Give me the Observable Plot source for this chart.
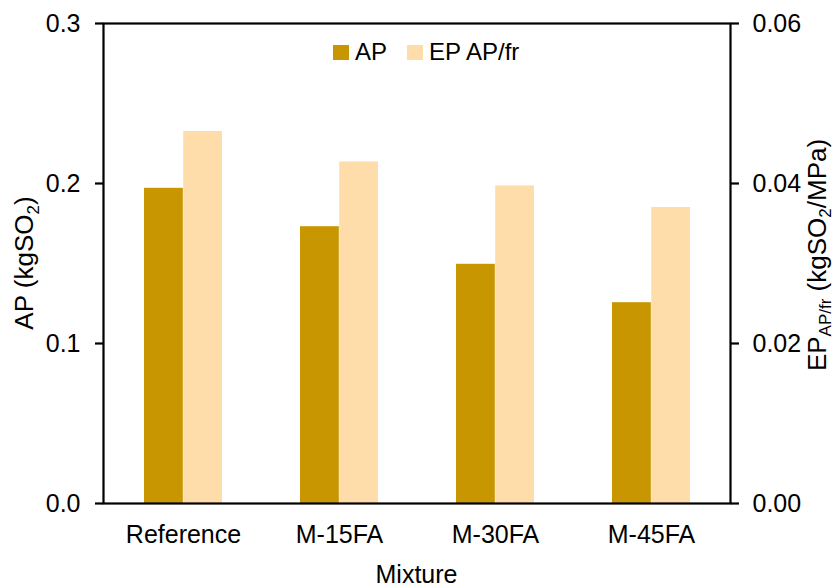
<!DOCTYPE html>
<html>
<head>
<meta charset="utf-8">
<script src="https://cdn.jsdelivr.net/npm/d3@7"></script>
<script src="https://cdn.jsdelivr.net/npm/@observablehq/plot@0.6"></script>
<style>
  body { margin: 0; background: #fff; }
  #wrap { position: relative; width: 837px; height: 588px; font-family: "Liberation Sans", Arial, sans-serif; }
  #legend { position: absolute; left: 333px; top: 38px; display: flex; align-items: center; font-size: 24px; color: #000; }
  #legend .sw { width: 16px; height: 15px; display: inline-block; margin-right: 6px; }
  #legend .item { display: flex; align-items: center; margin-right: 20px; }
</style>
</head>
<body>
<div id="wrap"></div>
<script>
// Data
const categories = ["Reference", "M-15FA", "M-30FA", "M-45FA"];
const apValues = [0.197, 0.173, 0.1495, 0.1255];
const epValues = [0.0465, 0.0427, 0.0397, 0.0370];
const leftTicks = [0, 0.1, 0.2, 0.3];
const rightTicks = [0, 0.02, 0.04, 0.06];
const seriesNames = ["AP", "EP AP/fr"];
const colors = ["#C89600", "#FFDDAA"];

const W = 837, H = 588;
const mL = 103, mR = 107, mT = 23, mB = 85;
const ratio = 0.3 / 0.06; // left scale / right scale

const table = categories.map((c, i) => ({ cat: c, ap: apValues[i], ep: epValues[i] * ratio }));

const step = (W - mL - mR) / (categories.length - 0.5 + 0.5);
const bw = step * 0.5;

const plot = Plot.plot({
  width: W, height: H,
  marginLeft: mL, marginRight: mR, marginTop: mT, marginBottom: mB,
  style: { fontFamily: "Liberation Sans, Arial, sans-serif", fontSize: "25px", color: "#000", background: "#fff" },
  x: { domain: categories, paddingInner: 0.5, paddingOuter: 0.25, label: null },
  y: { domain: [0, 0.3], label: null },
  marks: [
    Plot.barY(table, { x: "cat", y: "ap", fill: colors[0], insetRight: bw / 2 }),
    Plot.barY(table, { x: "cat", y: "ep", fill: colors[1], insetLeft: bw / 2 }),
    Plot.frame({ stroke: "#000", strokeWidth: 2.2 }),
    Plot.axisY(leftTicks, { anchor: "left", tickSize: 8, tickPadding: 15, strokeWidth: 2.2, tickFormat: d => d.toFixed(1), fontSize: 25, label: null }),
    Plot.axisY(rightTicks.map(v => v * ratio), { anchor: "right", tickSize: 8, tickPadding: 14, strokeWidth: 2.2, tickFormat: d => (d / ratio).toFixed(2), fontSize: 25, label: null }),
    Plot.axisX({ anchor: "bottom", tickSize: 0, tickPadding: 22, fontSize: 25, label: null })
  ]
});

const wrap = document.getElementById("wrap");
wrap.appendChild(plot);

const svg = d3.select(plot);
const ff = "Liberation Sans, Arial, sans-serif";

// x title
svg.append("text")
  .attr("x", (mL + W - mR) / 2).attr("y", 583)
  .attr("text-anchor", "middle").attr("font-size", 25).attr("font-family", ff).attr("fill", "#000")
  .text("Mixture");

// left title
const lt = svg.append("text")
  .attr("transform", `translate(33,${(mT + H - mB) / 2}) rotate(-90)`)
  .attr("text-anchor", "middle").attr("font-size", 26).attr("font-family", ff).attr("fill", "#000");
lt.append("tspan").text("AP (kgSO");
lt.append("tspan").attr("font-size", 17).attr("dy", 6).text("2");
lt.append("tspan").attr("dy", -6).text(")");

// right title
const rt = svg.append("text")
  .attr("transform", `translate(826,${(mT + H - mB) / 2 - 8}) rotate(-90)`)
  .attr("text-anchor", "middle").attr("font-size", 26).attr("font-family", ff).attr("fill", "#000");
rt.append("tspan").text("EP");
rt.append("tspan").attr("font-size", 17).attr("dy", 5).text("AP/fr");
rt.append("tspan").attr("dy", -5).text(" (kgSO");
rt.append("tspan").attr("font-size", 17).attr("dy", 5).text("2");
rt.append("tspan").attr("dy", -5).text("/MPa)");

// legend
const lg = document.createElement("div");
lg.id = "legend";
seriesNames.forEach((n, i) => {
  const it = document.createElement("div");
  it.className = "item";
  const sw = document.createElement("span");
  sw.className = "sw";
  sw.style.background = colors[i];
  const tx = document.createElement("span");
  tx.textContent = n;
  it.appendChild(sw); it.appendChild(tx);
  lg.appendChild(it);
});
wrap.appendChild(lg);
</script>
</body>
</html>
